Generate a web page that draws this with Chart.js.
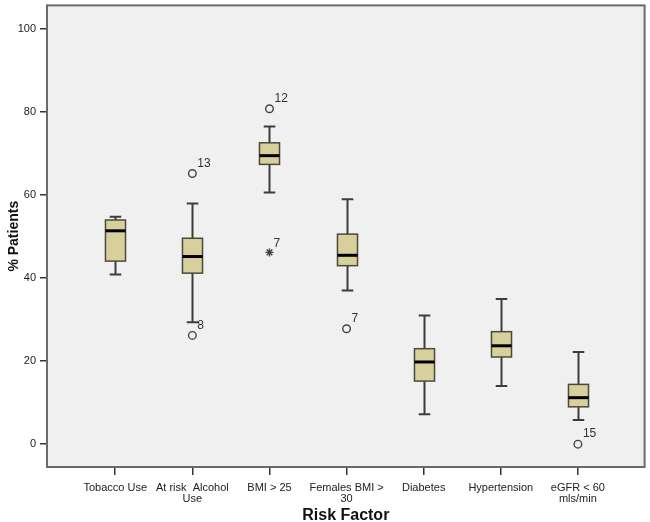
<!DOCTYPE html>
<html>
<head>
<meta charset="utf-8">
<script src="https://cdn.jsdelivr.net/npm/chart.js@4"></script>
<style>
  html, body { margin: 0; padding: 0; background: #fff; }
  #wrap { width: 650px; height: 522px; }
</style>
</head>
<body>
<div id="wrap"><canvas id="boxChart" width="650" height="522"></canvas></div>
<script>
// categories (multi-line tick labels)
const categories = [
  ['Tobacco Use'],
  ['At risk  Alcohol', 'Use'],
  ['BMI > 25'],
  ['Females BMI >', '30'],
  ['Diabetes'],
  ['Hypertension'],
  ['eGFR < 60', 'mls/min']
];
const whiskerLow  = [40.9, 29.4, 60.6, 37.0,  7.2, 14.0,  5.8];
const q1          = [44.1, 41.2, 67.4, 43.0, 15.2, 21.0,  9.0];
const median      = [51.4, 45.2, 69.5, 45.5, 19.8, 23.7, 11.2];
const q3          = [54.0, 49.6, 72.6, 50.6, 23.0, 27.1, 14.4];
const whiskerHigh = [54.8, 58.0, 76.5, 59.0, 31.0, 35.0, 22.2];

// outliers (circles) and extremes (stars): category index (1-based), value, case id
const outlierCat = [2, 2, 3, 4, 7];
const outlierVal = [65.2, 26.2, 80.8, 27.8, 0.0];
const outlierId  = ['13', '8', '12', '7', '15'];
const extremeCat = [3];
const extremeVal = [46.2];
const extremeId  = ['7'];

const yTicks = [0, 20, 40, 60, 80, 100];

const boxPlugin = {
  id: 'boxes',
  beforeDraw(chart) {
    const { ctx, chartArea: a } = chart;
    ctx.save();
    ctx.fillStyle = '#f0f0f0';
    ctx.fillRect(a.left, a.top, a.right - a.left, a.bottom - a.top);
    ctx.restore();
  },
  beforeDatasetsDraw(chart) {
    const { ctx, chartArea: a } = chart;
    const x = chart.scales.x, y = chart.scales.y;
    const unit = x.getPixelForValue(2) - x.getPixelForValue(1);
    const bw = unit * 0.26, cw = unit * 0.15;
    ctx.save();
    // frame
    ctx.strokeStyle = '#6a6a6a';
    ctx.lineWidth = 2;
    ctx.strokeRect(a.left, a.top, a.right - a.left, a.bottom - a.top);

    categories.forEach((c, i) => {
      const cx = Math.round(x.getPixelForValue(i + 1)) + 0.5;
      const yLo = y.getPixelForValue(whiskerLow[i]);
      const yHi = y.getPixelForValue(whiskerHigh[i]);
      const yQ1 = y.getPixelForValue(q1[i]);
      const yQ3 = y.getPixelForValue(q3[i]);
      const yMd = y.getPixelForValue(median[i]);
      // whiskers
      ctx.strokeStyle = '#3c3c3c';
      ctx.lineWidth = 2;
      ctx.beginPath();
      ctx.moveTo(cx, yHi); ctx.lineTo(cx, yQ3);
      ctx.moveTo(cx, yQ1); ctx.lineTo(cx, yLo);
      ctx.moveTo(cx - cw / 2, yHi); ctx.lineTo(cx + cw / 2, yHi);
      ctx.moveTo(cx - cw / 2, yLo); ctx.lineTo(cx + cw / 2, yLo);
      ctx.stroke();
      // box
      ctx.fillStyle = '#d8d09c';
      ctx.fillRect(cx - bw / 2, yQ3, bw, yQ1 - yQ3);
      ctx.strokeStyle = '#4a4a3c';
      ctx.lineWidth = 1.5;
      ctx.strokeRect(cx - bw / 2, yQ3, bw, yQ1 - yQ3);
      // median
      ctx.strokeStyle = '#000';
      ctx.lineWidth = 3;
      ctx.beginPath();
      ctx.moveTo(cx - bw / 2, yMd); ctx.lineTo(cx + bw / 2, yMd);
      ctx.stroke();
    });
    ctx.restore();
  },
  afterDatasetsDraw(chart) {
    const { ctx } = chart;
    const x = chart.scales.x, y = chart.scales.y;
    ctx.save();
    ctx.fillStyle = '#333';
    ctx.font = '12px "Liberation Sans", Arial, sans-serif';
    ctx.textAlign = 'left';
    ctx.textBaseline = 'middle';
    outlierCat.forEach((c, i) => {
      ctx.fillText(outlierId[i], x.getPixelForValue(c) + 5, y.getPixelForValue(outlierVal[i]) - 10);
    });
    extremeCat.forEach((c, i) => {
      ctx.fillText(extremeId[i], x.getPixelForValue(c) + 4, y.getPixelForValue(extremeVal[i]) - 9);
    });
    ctx.restore();
  }
};

const tickFont = { family: '"Liberation Sans", Arial, sans-serif', size: 11, lineHeight: 1.05 };

new Chart(document.getElementById('boxChart'), {
  type: 'scatter',
  data: {
    datasets: [
      {
        data: outlierCat.map((c, i) => ({ x: c, y: outlierVal[i] })),
        pointStyle: 'circle',
        pointRadius: 3.8,
        borderColor: '#444',
        backgroundColor: '#f0f0f0',
        borderWidth: 1.4
      },
      {
        data: extremeCat.map((c, i) => ({ x: c, y: extremeVal[i] })),
        pointStyle: 'star',
        pointRadius: 4,
        borderColor: '#444',
        borderWidth: 1.4
      }
    ]
  },
  options: {
    responsive: false,
    animation: false,
    layout: { padding: { top: 0, right: 5, left: 0, bottom: 0 } },
    plugins: { legend: { display: false }, tooltip: { enabled: false } },
    scales: {
      x: {
        type: 'linear',
        min: 0.115,
        max: 7.865,
        afterBuildTicks: axis => { axis.ticks = categories.map((c, i) => ({ value: i + 1 })); },
        afterFit: axis => { axis.height = 55; },
        ticks: {
          autoSkip: false,
          maxRotation: 0,
          padding: 7,
          color: '#222',
          font: tickFont,
          callback: v => categories[v - 1]
        },
        grid: { drawOnChartArea: false, drawTicks: true, tickLength: 8, color: '#333', lineWidth: 1.5 },
        border: { display: false },
        title: {
          display: true,
          text: 'Risk Factor',
          color: '#111',
          font: { family: '"Liberation Sans", Arial, sans-serif', size: 16, weight: 'bold', lineHeight: 0.8 },
          padding: { top: 0, bottom: 0 }
        }
      },
      y: {
        min: -5.5,
        max: 105.7,
        afterBuildTicks: axis => { axis.ticks = yTicks.map(v => ({ value: v })); },
        afterFit: axis => { axis.width = 47; },
        ticks: { padding: 4, color: '#222', font: { family: '"Liberation Sans", Arial, sans-serif', size: 11, lineHeight: 0.1 } },
        grid: { drawOnChartArea: false, drawTicks: true, tickLength: 7, color: '#333', lineWidth: 1.5 },
        border: { display: false },
        title: {
          display: true,
          text: '% Patients',
          color: '#111',
          font: { family: '"Liberation Sans", Arial, sans-serif', size: 14, weight: 'bold', lineHeight: 1.2 },
          padding: { top: 6, bottom: 0 }
        }
      }
    }
  },
  plugins: [boxPlugin]
});
</script>
</body>
</html>
